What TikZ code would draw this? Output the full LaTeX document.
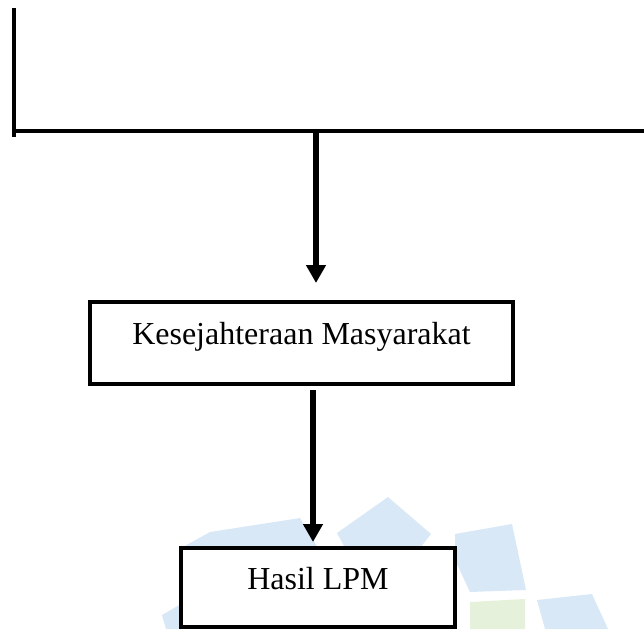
\documentclass[tikz,border=0pt]{standalone}
\usepackage{fontspec}
\setmainfont{Liberation Serif}
\usetikzlibrary{arrows.meta}
\definecolor{wmblue}{RGB}{216,232,246}
\definecolor{wmgreen}{RGB}{230,241,220}
\tikzset{
  line/.style={line width=3.6pt, black},
  flow/.style={line width=5.5pt, black, -{Triangle[width=19pt,length=18pt]}},
  box/.style={draw=black, line width=3.6pt, fill=white, rectangle, inner sep=0pt,
    font=\fontsize{32}{38}\selectfont, text height=22pt, text depth=19pt},
  wm/.style={fill=wmblue, draw=none},
  wmg/.style={fill=wmgreen, draw=none}
}
\begin{document}
\begin{tikzpicture}[x=1pt,y=-1pt]
\useasboundingbox (0,0) rectangle (644,629);
% faint watermark
\fill[wm] (388,497) -- (431,534) -- (420,548) -- (345,548) -- (337,533) -- cycle;
\fill[wm] (210,532) -- (300,518) -- (318,548) -- (181,548) -- cycle;
\fill[wm] (455,534) -- (512,524) -- (526,590) -- (470,592) -- (455,560) -- cycle;
\fill[wm] (537,600) -- (592,594) -- (608,629) -- (545,629) -- cycle;
\fill[wmg] (470,602) -- (525,599) -- (525,629) -- (470,629) -- cycle;
\fill[wm] (162,615) -- (181,604) -- (181,629) -- (166,629) -- cycle;
% top bracket
\coordinate (vtop) at (14,8);
\coordinate (vbot) at (14,137);
\coordinate (hleft) at (12.2,131);
\coordinate (hright) at (644,131);
\coordinate (hmid) at (316,131);
\draw[line] (vtop) -- (vbot);
\draw[line] (hleft) -- (hright);
% boxes
\node[box, minimum width=423pt, minimum height=82pt] (kes) at (301.5,343) {Kesejahteraan Masyarakat};
\node[box, minimum width=274pt, minimum height=79pt] (hasil) at (318,587.5) {Hasil LPM};
% arrows
\coordinate (a1end) at (316,283);
\draw[flow] (hmid) -- (a1end);
\coordinate (a2start) at (313,390);
\coordinate (a2end) at (313,542);
\draw[flow] (a2start) -- (a2end);
\end{tikzpicture}
\end{document}
